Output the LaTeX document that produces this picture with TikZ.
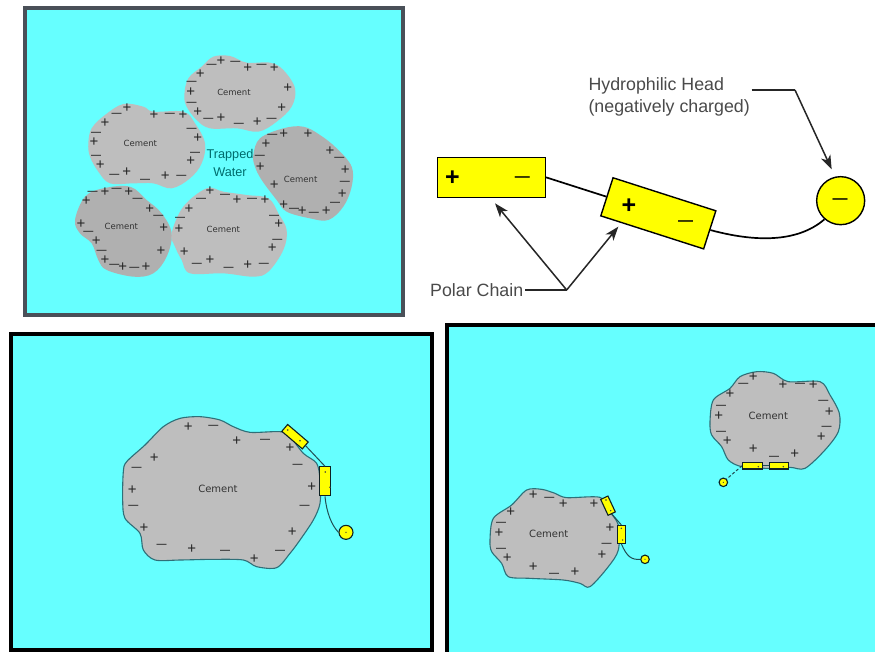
\documentclass[tikz,border=0pt]{standalone}
\usepackage{fontspec}
\setmainfont{Liberation Sans}
\newfontfamily\blobfont{DejaVu Sans}
\usetikzlibrary{arrows.meta}
\definecolor{pool}{HTML}{66FFFF}
\definecolor{grain}{HTML}{BEBEBE}
\definecolor{graindark}{HTML}{B0B0B0}
\definecolor{rim}{HTML}{2F6F78}
\definecolor{chem}{HTML}{FFFF00}
\definecolor{labelgrey}{HTML}{4A4A4A}
\definecolor{slate}{HTML}{4A5058}
\tikzset{
  panel/.style={fill=pool,draw=black,line width=3.2pt},
  toppanel/.style={fill=pool,draw=slate,line width=3.6pt},
  grainbody/.style={fill=grain,draw=none},
  grainrim/.style={fill=grain,draw=rim,line width=1.1pt},
  plusmark/.style={inner sep=0pt,text=black!85,font=\fontsize{15}{15}\selectfont},
  minusmark/.style={inner sep=0pt,text=black!80,font=\bfseries\fontsize{10}{10}\selectfont},
  cementlabel/.style={inner sep=0pt,text=black!80,font=\blobfont\fontsize{8.5}{9}\selectfont},
  cementbig/.style={cementlabel,font=\blobfont\fontsize{10}{11}\selectfont},
  bigbar/.style={draw=black,fill=chem,line width=1.4pt,minimum width=108pt,minimum height=40pt,inner sep=0pt},
  bighead/.style={draw=black,fill=chem,line width=1.4pt,circle,minimum size=48pt,inner sep=0pt},
  bigplus/.style={inner sep=0pt,font=\bfseries\fontsize{25}{25}\selectfont},
  bigminus/.style={inner sep=0pt,font=\bfseries\fontsize{15}{15}\selectfont},
  callout/.style={text=labelgrey,font=\fontsize{17.8}{19}\selectfont,inner sep=0pt,anchor=base west},
  leader/.style={draw=black!85,line width=1.5pt},
  pointer/.style={leader,-{Stealth[length=14pt,width=10pt,inset=4pt]}},
  tail/.style={draw=black,line width=1.7pt},
  minibar/.style={draw=black!70!rim,fill=chem,line width=1.1pt,inner sep=0pt},
  minihead/.style={draw=black!70!rim,fill=chem,line width=1.1pt,circle,inner sep=0pt},
  minitail/.style={draw=rim!70!black,line width=1pt},
  minidot/.style={fill=black!75,draw=none},
}
% Charge marks placed in the current scope's coordinates
\newcommand{\plusses}[1]{\foreach \mx/\my in {#1} \node[plusmark] at (\mx,\my) {+};}
\newcommand{\minuses}[1]{\foreach \mx/\my in {#1} \node[minusmark] at (\mx,\my) {—};}
\begin{document}
\begin{tikzpicture}[x=1pt,y=-1pt]
\useasboundingbox (0,0) rectangle (875,651);
\fill[white] (0,0) rectangle (875,651);

% Flocculated grains around trapped water
\draw[toppanel] (25,8) rectangle (403,315);
\begin{scope}[xshift=20pt,x=0.33333pt,y=-0.33333pt]
  \fill[grainbody] plot[smooth cycle,tension=0.6] coordinates {(493,285)(505,235)(545,200)(580,170)(630,168)(680,188)(750,188)(790,210)(825,265)(815,320)(770,365)(715,395)(650,385)(570,385)(530,360)(500,320)};
  \fill[grainbody] plot[smooth cycle,tension=0.6] coordinates {(205,430)(215,385)(255,345)(310,312)(370,320)(400,335)(490,335)(525,370)(555,430)(545,490)(510,535)(455,565)(400,550)(340,550)(270,550)(235,515)(210,470)};
  \fill[graindark] plot[smooth cycle,tension=0.6] coordinates {(700,465)(720,415)(790,385)(850,380)(900,405)(950,445)(995,500)(995,560)(970,620)(925,660)(870,655)(800,635)(770,600)(725,540)(705,500)};
  \fill[graindark] plot[smooth cycle,tension=0.6] coordinates {(165,660)(195,590)(250,565)(330,560)(380,600)(425,640)(455,700)(440,770)(400,820)(340,830)(260,810)(235,780)(215,730)(180,700)};
  \fill[grainbody] plot[smooth cycle,tension=0.6] coordinates {(455,700)(490,620)(560,565)(610,575)(680,585)(745,595)(775,640)(800,690)(790,750)(745,815)(700,830)(610,820)(510,820)(485,780)(465,740)};

  \plusses{603/184,683/206,763/206,541/222,803/264,512/277,785/324,533/337,603/356,712/368}
  \minuses{575/198,646/188,725/197,515/250,515/312,565/360,657/374,755/361}
  \node[cementlabel] (topcement) at (642,277) {Cement};

  \plusses{321/324,402/346,489/346,255/370,533/416,222/426,512/485,241/496,320/517,436/530}
  \minuses{290/346,450/346,228/402,515/391,525/462,228/470,283/528,375/542,484/530}
  \node[cementlabel] (leftcement) at (361,430) {Cement};

  \plusses{791/402,864/402,738/433,930/453,976/512,721/503,763/555,967/584,791/617,847/635,919/635}
  \minuses{757/407,958/478,720/470,975/550,945/612,822/630,882/641}
  \node[cementlabel] (rightcement) at (842,538) {Cement};

  \plusses{255/576,326/576,199/604,389/627,183/674,431/685,229/723,423/755,255/782,308/803,378/803}
  \minuses{218/579,290/571,353/600,415/651,205/700,245/757,283/798,343/806}
  \node[cementlabel] (lowleftcement) at (304,678) {Cement};

  \plusses{570/575,651/601,735/601,507/627,477/688,776/673,757/745,493/757,570/781,683/795}
  \minuses{543/600,615/587,696/600,480/658,762/650,772/722,531/795,626/806,732/795}
  \node[cementlabel] (lowmidcement) at (610,688) {Cement};

  \node[inner sep=0pt,text=teal!85!black,font=\fontsize{12.7}{14}\selectfont] (trapped) at (630,466) {Trapped};
  \node[inner sep=0pt,text=teal!85!black,font=\fontsize{12.7}{14}\selectfont] (water) at (630,516) {Water};
\end{scope}

% Superplasticizer molecule
\begin{scope}[xshift=420pt,yshift=-60pt,x=0.33333pt,y=-0.33333pt]
  \node[bigbar] (bara) at (214,352) {};
  \node[bigbar,rotate=-17.8] (barb) at (715,460) {};
  \node[bighead] (headc) at (1262,422) {};
  \draw[tail] (bara.east) -- (barb.west);
  \draw[tail] (barb.east) .. controls (1000,545) and (1130,550) .. (headc.229);
  \node[bigplus] (aplus) at (97,355) {+};
  \node[bigminus] (aminus) at (307,358) {—};
  \node[bigplus] (bplus) at (627,440) {+};
  \node[bigminus] (bminus) at (797,490) {—};
  \node[bigminus] (cminus) at (1260,424) {—};

  \node[callout] (hydro) at (505,90) {Hydrophilic Head};
  \node[callout] (charge) at (505,158) {(negatively charged)};
  \node[callout] (polar) at (30,708) {Polar Chain};

  \coordinate (hdstart) at (995,90);
  \coordinate (hdbend) at (1125,90);
  \coordinate (hdtip) at (1235,328);
  \draw[leader] (hdstart) -- (hdbend);
  \draw[pointer] (hdbend) -- (hdtip);

  \coordinate (fork) at (440,690);
  \coordinate (tipa) at (225,430);
  \coordinate (tipb) at (595,500);
  \draw[leader] (polar.east |- fork) ++(6,0) -- (fork);
  \draw[pointer] (fork) -- (tipa);
  \draw[pointer] (fork) -- (tipb);
\end{scope}

% Adsorbed molecule on a single grain
\draw[panel] (11,334) rectangle (432,650);
\begin{scope}[xshift=100pt,yshift=-400pt,x=0.33333pt,y=-0.33333pt]
  \draw[grainrim] plot[smooth cycle,tension=0.5] coordinates {(70,215)(80,185)(135,135)(190,80)(240,55)(300,50)(360,60)(400,80)(450,97)(540,95)(570,110)(610,160)(650,190)(660,240)(660,310)(640,360)(600,420)(570,460)(530,503)(470,500)(430,480)(340,478)(240,480)(165,480)(130,450)(120,400)(75,355)(68,300)};
  \plusses{265/82,410/123,163/175,570/143,97/270,635/260,132/385,577/395,275/448,463/478}
  \minuses{340/82,110/208,495/123,593/198,100/322,614/322,185/438,375/456,540/456}
  \node[cementbig] (singlecement) at (354,268) {Cement};
  \node[minibar,minimum width=27pt,minimum height=9pt,rotate=-40.5] (sa) at (585,110) {};
  \node[minibar,minimum width=11.3pt,minimum height=29pt] (sb) at (675,244) {};
  \node[minihead,minimum size=14pt] (sc) at (738,397) {};
  \draw[minitail] (sa.east) -- (sb.north);
  \draw[minitail] (sb.south) .. controls (680,340) and (695,375) .. (sc.west);
  \fill[minidot] (563,90) circle (0.9pt) (600,122) circle (0.9pt) (676,216) circle (0.9pt) (690,262) circle (0.9pt) (738,397) circle (0.7pt);
\end{scope}

% Grains pushed apart by adsorbed molecules
\draw[panel] (447,325) rectangle (885,660);
\begin{scope}[xshift=480pt,yshift=-360pt,x=0.33333pt,y=-0.33333pt]
  \draw[grainrim] plot[smooth cycle,tension=0.5] coordinates {(30,540)(40,475)(95,435)(140,390)(185,388)(225,400)(260,413)(360,412)(385,450)(415,495)(415,570)(385,620)(330,680)(300,670)(250,660)(150,655)(85,650)(65,610)(35,575)};
  \plusses{160/405,250/432,342/432,92/455,390/505,57/520,82/595,366/585,160/620,285/635}
  \minuses{208/417,63/492,380/556,63/571,222/645}
  \node[cementbig] (pairleft) at (206,523) {Cement};
  \node[minibar,minimum width=17.5pt,minimum height=8pt,rotate=-65] (la) at (384,437) {};
  \node[minibar,minimum width=7.7pt,minimum height=17.7pt] (lb) at (424,523) {};
  \node[minihead,minimum size=8.5pt] (lc) at (495,598) {};
  \draw[minitail] (la.east) -- (lb.north);
  \draw[minitail] (lb.south) .. controls (440,590) and (455,600) .. (lc.west);
  \fill[minidot] (378,420) circle (0.8pt) (392,452) circle (0.8pt) (424,505) circle (0.8pt) (428,540) circle (0.8pt) (495,598) circle (0.6pt);

  \draw[grainrim] plot[smooth cycle,tension=0.5] coordinates {(690,185)(700,120)(750,85)(780,50)(830,35)(880,40)(925,65)(1020,65)(1050,105)(1078,160)(1075,215)(1035,270)(975,325)(930,322)(860,325)(785,320)(745,300)(725,260)(695,225)};
  \plusses{820/52,909/76,1000/76,750/103,1048/155,716/167,742/242,1024/230,820/268,944/283}
  \minuses{790/75,960/75,723/140,1030/127,723/218,1040/205,882/293}
  \node[cementbig] (pairright) at (865,168) {Cement};
  \node[minibar,minimum width=20pt,minimum height=6.7pt] (ra) at (818,317) {};
  \node[minibar,minimum width=18.3pt,minimum height=6.7pt] (rb) at (897,317) {};
  \node[minihead,minimum size=8.5pt] (rc) at (730,367) {};
  \draw[minitail] (rb.west) -- (ra.east);
  \draw[minitail,densely dashed] (ra.west) -- (rc.north east);
  \fill[minidot] (835,320) circle (0.8pt) (910,320) circle (0.8pt) (730,367) circle (0.6pt);
\end{scope}
\end{tikzpicture}
\end{document}
